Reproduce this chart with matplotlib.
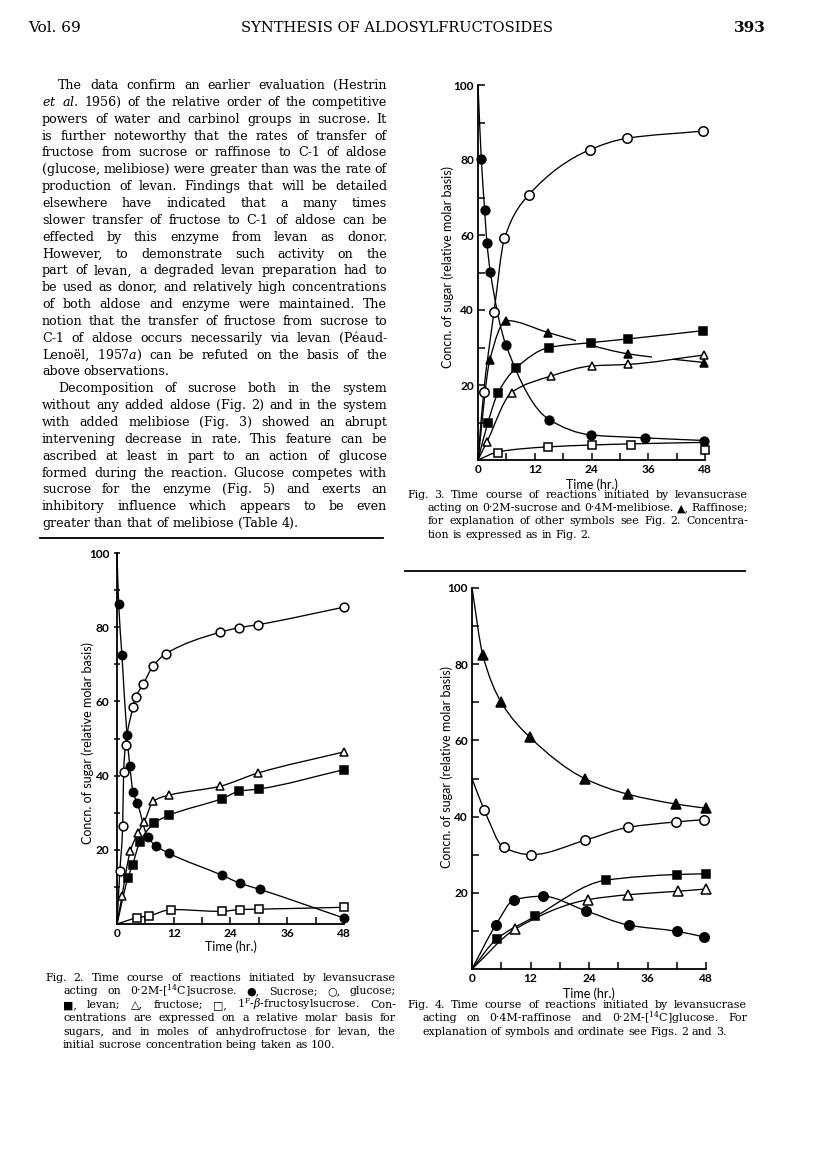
import matplotlib
matplotlib.use('Agg')
import matplotlib.pyplot as plt
import numpy as np
from matplotlib.path import Path
from matplotlib.patches import PathPatch, Rectangle
from matplotlib.lines import Line2D
from matplotlib.font_manager import FontProperties

plt.rcParams['mathtext.fontset'] = 'dejavuserif'

W, H = 816, 1155

# ---- Fig. 2 (sucrose alone) ----
f2_sucrose_t = [0, 0.35, 1.05, 2.1, 2.7, 3.4, 4.3, 6.5, 8.2, 10.9, 22.1, 26.0, 30.3, 48]
f2_sucrose_c = [100, 86.3, 72.4, 51.0, 42.7, 35.5, 32.6, 23.4, 21.1, 19.1, 13.2, 11.0, 9.3, 1.6]
f2_glucose_t = [0, 0.6, 1.2, 1.4, 1.8, 3.4, 4.0, 5.6, 7.6, 10.4, 21.7, 25.9, 29.9, 48]
f2_glucose_c = [0, 14.2, 26.4, 41.0, 48.2, 58.4, 61.2, 64.8, 69.5, 72.9, 78.6, 79.9, 80.7, 85.4]
f2_fructose_t = [0, 1.05, 2.8, 4.4, 5.7, 7.7, 10.9, 21.7, 29.8, 48]
f2_fructose_c = [0, 7.5, 19.6, 24.5, 27.4, 33.1, 34.7, 37.1, 40.7, 46.4]
f2_levan_t = [0, 2.3, 3.3, 4.8, 7.9, 11.0, 22.2, 25.9, 30.0, 48]
f2_levan_c = [0, 12.4, 16.0, 22.0, 27.2, 29.3, 33.8, 35.8, 36.4, 41.6]
f2_fsuc_t = [0, 4.3, 6.8, 11.5, 22.1, 26.0, 30.1, 48]
f2_fsuc_c = [0, 1.7, 2.2, 3.9, 3.4, 3.9, 4.0, 4.5]

# ---- Fig. 3 (sucrose + melibiose) ----
f3_sucrose_t = [0, 0.7, 1.4, 1.9, 2.6, 5.9, 15.0, 23.8, 35.3, 47.8]
f3_sucrose_c = [100, 80.2, 66.8, 57.8, 50.2, 30.7, 10.8, 6.7, 5.9, 5.2]
f3_glucose_t = [0, 1.2, 3.4, 5.6, 10.8, 23.6, 31.5, 47.5]
f3_glucose_c = [0, 18.1, 39.6, 59.1, 70.8, 82.7, 85.8, 87.7]
f3_raffinose_t = [0, 2.5, 6.0, 14.8, 31.8, 47.8]
f3_raffinose_c = [0, 26.7, 37.2, 34.0, 28.3, 26.0]
f3_raffinose_pieces = [(0, 20.8), (22.9, 36.7), (41.3, 48)]   # curve is broken where lines cross
f3_levan_t = [0, 2.1, 4.2, 8.1, 15.0, 23.9, 31.8, 47.6]
f3_levan_c = [0, 10.0, 17.8, 24.6, 30.0, 31.3, 32.3, 34.5]
f3_fructose_t = [0, 1.9, 7.1, 15.5, 24.1, 31.8, 47.8]
f3_fructose_c = [0, 4.9, 18.0, 22.4, 25.1, 25.5, 28.0]
f3_fsuc_t = [0, 4.3, 14.8, 24.1, 32.3, 48]
f3_fsuc_c = [0, 1.8, 3.4, 4.1, 4.1, 2.6]
f3_fsuc_line_c = [0, 2.2, 3.5, 4.0, 4.3, 4.7]   # drawn curve, last point sits below it

# ---- Fig. 4 (raffinose + glucose) ----
f4_raffinose_t = [0, 2.2, 6.0, 11.9, 23.1, 31.9, 41.8, 48.0]
f4_raffinose_c = [100, 82.5, 70.0, 60.8, 50.0, 45.9, 43.3, 42.2]
f4_glucose_t = [0, 2.5, 6.5, 12.2, 23.2, 32.1, 41.8, 47.6]
f4_glucose_c = [50, 41.8, 31.9, 30.0, 33.8, 37.2, 38.6, 39.2]
f4_sucrose_t = [0, 4.9, 8.7, 14.5, 23.3, 32.2, 42.0, 47.6]
f4_sucrose_c = [0, 11.6, 18.2, 19.1, 15.3, 11.5, 9.9, 8.4]
f4_levan_t = [0, 5.1, 13.0, 27.4, 42.0, 48.1]
f4_levan_c = [0, 7.9, 13.8, 23.3, 24.8, 25.0]
f4_fructose_t = [0, 8.9, 23.8, 32.1, 42.2, 48.0]
f4_fructose_c = [0, 10.5, 18.2, 19.5, 20.4, 21.0]

x_ticks = [0, 12, 24, 36, 48]
y_ticks = [20, 40, 60, 80, 100]
ylab = 'Concn. of sugar (relative molar basis)'
xlab = 'Time (hr.)'

header = ['Vol. 69', 'SYNTHESIS OF ALDOSYLFRUCTOSIDES', '393']

body_lines = [
    'The data confirm an earlier evaluation (Hestrin',
    r'$\it{et}$ $\it{al.}$ 1956) of the relative order of the competitive',
    'powers of water and carbinol groups in sucrose. It',
    'is further noteworthy that the rates of transfer of',
    'fructose from sucrose or raffinose to C-1 of aldose',
    '(glucose, melibiose) were greater than was the rate of',
    'production of levan. Findings that will be detailed',
    'elsewhere have indicated that a many times',
    'slower transfer of fructose to C-1 of aldose can be',
    'effected by this enzyme from levan as donor.',
    'However, to demonstrate such activity on the',
    'part of levan, a degraded levan preparation had to',
    'be used as donor, and relatively high concentrations',
    'of both aldose and enzyme were maintained. The',
    'notion that the transfer of fructose from sucrose to',
    'C-1 of aldose occurs necessarily via levan (Péaud-',
    r'Lenoël, 1957$\it{a}$) can be refuted on the basis of the',
    'above observations.',
    'Decomposition of sucrose both in the system',
    'without any added aldose (Fig. 2) and in the system',
    'with added melibiose (Fig. 3) showed an abrupt',
    'intervening decrease in rate. This feature can be',
    'ascribed at least in part to an action of glucose',
    'formed during the reaction. Glucose competes with',
    'sucrose for the enzyme (Fig. 5) and exerts an',
    'inhibitory influence which appears to be even',
    'greater than that of melibiose (Table 4).',
]
body_last = [17, 26]
body_indent = [0, 18]

cap2_lines = [
    'Fig. 2.  Time course of reactions initiated by levansucrase',
    r'acting on 0·2M-[$^{14}$C]sucrose. ●, Sucrose; ○, glucose;',
    r'■, levan; △, fructose; □, 1$^{\mathrm{F}}$-$\beta$-fructosylsucrose. Con-',
    'centrations are expressed on a relative molar basis for',
    'sugars, and in moles of anhydrofructose for levan, the',
    'initial sucrose concentration being taken as 100.',
]
cap3_lines = [
    'Fig. 3.  Time course of reactions initiated by levansucrase',
    'acting on 0·2M-sucrose and 0·4M-melibiose. ▲, Raffinose;',
    'for explanation of other symbols see Fig. 2. Concentra-',
    'tion is expressed as in Fig. 2.',
]
cap4_lines = [
    'Fig. 4.  Time course of reactions initiated by levansucrase',
    r'acting on 0·4M-raffinose and 0·2M-[$^{14}$C]glucose. For',
    'explanation of symbols and ordinate see Figs. 2 and 3.',
]

fig = plt.figure(figsize=(W / 100, H / 100), dpi=100)
renderer = fig.canvas.get_renderer()
serif = ['DejaVu Serif', 'DejaVu Sans']
sans = ['Lato', 'DejaVu Sans']


def text_w(s, prop):
    w, _, _ = renderer.get_text_width_height_descent(s, prop, ismath=('$' in s))
    return w


def set_line(line, x0, x1, ybase, size, justify):
    words = line.split()
    size_now = size
    while True:
        prop = FontProperties(family=serif, size=size_now)
        widths = [text_w(w, prop) for w in words]
        space = text_w('a a', prop) - text_w('aa', prop)
        if justify and len(words) > 1:
            gap = (x1 - x0 - sum(widths)) / (len(words) - 1)
            if gap < 0.55 * space and size_now > size * 0.85:
                size_now -= 0.05
                continue
        else:
            gap = space
        break
    x = x0
    for w, wd in zip(words, widths):
        fig.text(x / W, 1 - ybase / H, w, fontproperties=prop,
                 ha='left', va='baseline')
        x += wd + gap


def smooth_path(t, c):
    t = np.asarray(t, float)
    c = np.asarray(c, float)
    h = np.diff(t)
    d = np.diff(c) / h
    m = np.zeros_like(c)
    m[0], m[-1] = d[0], d[-1]
    for i in range(1, len(c) - 1):
        if d[i - 1] * d[i] <= 0:
            m[i] = 0
        else:
            w1, w2 = 2 * h[i] + h[i - 1], h[i] + 2 * h[i - 1]
            m[i] = (w1 + w2) / (w1 / d[i - 1] + w2 / d[i])
    verts = [(t[0], c[0])]
    codes = [Path.MOVETO]
    for i in range(len(h)):
        verts += [(t[i] + h[i] / 3, c[i] + m[i] * h[i] / 3),
                  (t[i + 1] - h[i] / 3, c[i + 1] - m[i + 1] * h[i] / 3),
                  (t[i + 1], c[i + 1])]
        codes += [Path.CURVE4] * 3
    return Path(verts, codes)


def series(ax, t, c, marker, filled, ms=6.3, line_c=None, pieces=None):
    lc = c if line_c is None else line_c
    path = smooth_path(t, lc)
    if pieces is None:
        ax.add_patch(PathPatch(path, fill=False, lw=0.95, ec='black',
                               clip_on=False, zorder=2))
    else:
        for a, b in pieces:
            p = ax.add_patch(PathPatch(path, fill=False, lw=0.95, ec='black', zorder=2))
            p.set_clip_path(Rectangle((a, -20), b - a, 140, transform=ax.transData))
    ax.plot(t[1:], c[1:], ls='none', marker=marker, ms=ms,
            mfc='black' if filled else 'white', mec='black', mew=1.1,
            clip_on=False, zorder=3)


def make_axes(px_left, px_right, px_top, px_bottom, ylab_dx, ylab_cy, xlab_dy, yt_dir):
    ax = fig.add_axes([px_left / W, 1 - px_bottom / H,
                       (px_right - px_left) / W, (px_bottom - px_top) / H])
    ax.set_xlim(0, 48)
    ax.set_ylim(0, 100)
    ax.patch.set_alpha(0)
    for s in ['top', 'right']:
        ax.spines[s].set_visible(False)
    for s in ['left', 'bottom']:
        ax.spines[s].set_linewidth(1.3)
    ax.set_xticks(x_ticks)
    ax.set_xticks([6, 18, 30, 42], minor=True)
    ax.set_yticks(y_ticks)
    ax.set_yticks([10, 30, 50, 70, 90], minor=True)
    ax.tick_params(axis='x', which='both', direction='in', length=5, width=1.1, pad=3)
    ax.tick_params(axis='y', which='both', direction=yt_dir, length=5, width=1.1, pad=3)
    for lab in ax.get_xticklabels() + ax.get_yticklabels():
        lab.set_fontfamily(sans)
        lab.set_fontweight('bold')
        lab.set_fontsize(8.6)
    w_px = px_right - px_left
    h_px = px_bottom - px_top
    ax.text(ylab_dx / w_px, (px_bottom - ylab_cy) / h_px, ylab, transform=ax.transAxes,
            rotation=90, ha='center', va='center', fontsize=9.0, family=sans)
    ax.text(0.5, -xlab_dy / h_px, xlab, transform=ax.transAxes,
            ha='center', va='center', fontsize=9.0, family=sans)
    return ax


# header
fig.text(28 / W, 1 - 32 / H, header[0], fontsize=11, family=serif, ha='left', va='baseline')
fig.text(397 / W, 1 - 32 / H, header[1], fontsize=10.5, family=serif, ha='center', va='baseline')
fig.text(766 / W, 1 - 32 / H, header[2], fontsize=11, family=serif, ha='right',
         va='baseline', fontweight='bold')

# body text, left column
for i, line in enumerate(body_lines):
    x0 = 58 if i in body_indent else 42
    set_line(line, x0, 387, 89 + i * 16.85, 9.1, i not in body_last)

fig.add_artist(Line2D([40 / W, 383 / W], [1 - 538 / H] * 2, lw=1.3, color='black'))
fig.add_artist(Line2D([405 / W, 745 / W], [1 - 571 / H] * 2, lw=1.3, color='black'))

# captions
for i, line in enumerate(cap2_lines):
    set_line(line, 45 if i == 0 else 63, 396, 981 + i * 13.4, 7.9, i != len(cap2_lines) - 1)
for i, line in enumerate(cap3_lines):
    set_line(line, 407 if i == 0 else 428, 748, 498 + i * 13.2, 7.9, i != len(cap3_lines) - 1)
for i, line in enumerate(cap4_lines):
    set_line(line, 407 if i == 0 else 422, 747, 1008 + i * 13.4, 7.9, i != len(cap4_lines) - 1)

# Fig. 2
ax2 = make_axes(117, 344, 553, 924, -29, 743, 23, 'inout')
series(ax2, f2_sucrose_t, f2_sucrose_c, 'o', True, ms=6.0)
series(ax2, f2_glucose_t, f2_glucose_c, 'o', False, ms=6.3)
series(ax2, f2_fructose_t, f2_fructose_c, '^', False, ms=6.0)
series(ax2, f2_levan_t, f2_levan_c, 's', True, ms=5.6)
series(ax2, f2_fsuc_t, f2_fsuc_c, 's', False, ms=5.6)

# Fig. 3
ax3 = make_axes(478, 705, 85, 460, -30, 267, 25, 'in')
series(ax3, f3_sucrose_t, f3_sucrose_c, 'o', True)
series(ax3, f3_glucose_t, f3_glucose_c, 'o', False, ms=6.8)
series(ax3, f3_raffinose_t, f3_raffinose_c, '^', True, pieces=f3_raffinose_pieces)
series(ax3, f3_levan_t, f3_levan_c, 's', True, ms=5.8)
series(ax3, f3_fructose_t, f3_fructose_c, '^', False)
series(ax3, f3_fsuc_t, f3_fsuc_c, 's', False, ms=5.8, line_c=f3_fsuc_line_c)

# Fig. 4
ax4 = make_axes(472, 706, 588, 969, -25, 767, 25, 'in')
series(ax4, f4_raffinose_t, f4_raffinose_c, '^', True, ms=6.8)
series(ax4, f4_glucose_t, f4_glucose_c, 'o', False, ms=6.8)
series(ax4, f4_sucrose_t, f4_sucrose_c, 'o', True, ms=6.8)
series(ax4, f4_levan_t, f4_levan_c, 's', True, ms=6.0)
series(ax4, f4_fructose_t, f4_fructose_c, '^', False, ms=6.8)

fig.savefig('out.png', dpi=100, facecolor='white')
